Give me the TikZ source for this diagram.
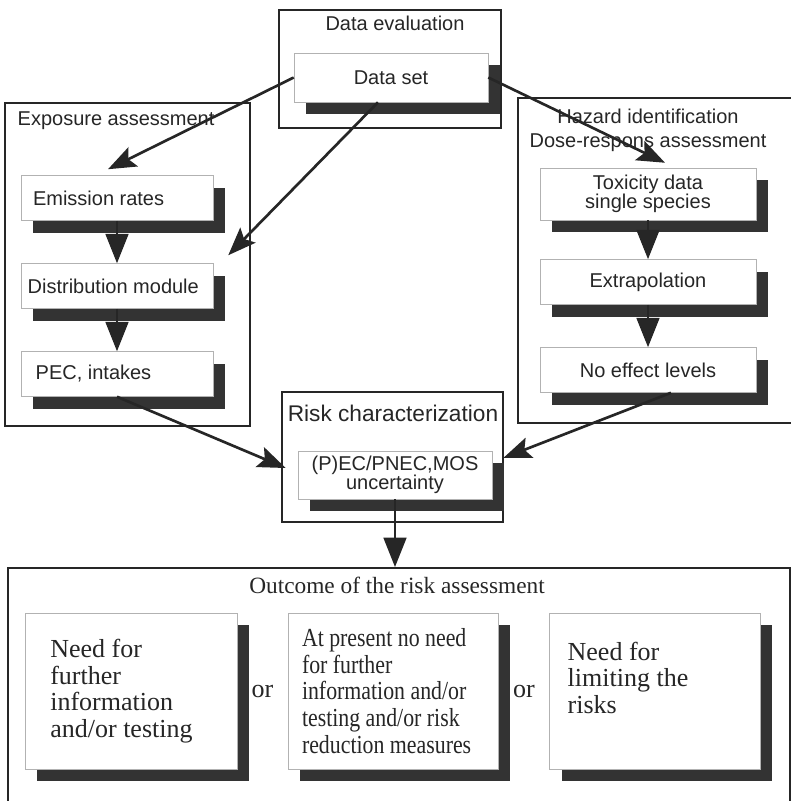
\documentclass[tikz,border=0pt]{standalone}
\usepackage{fontspec}
\setmainfont{Liberation Serif}
\setsansfont{Liberation Sans}
\newfontfamily\narrowserif[FakeStretch=0.84]{Liberation Serif}
\usetikzlibrary{positioning,shadows,calc,arrows.meta}

\tikzset{
  frame/.style={draw=black!85,line width=1pt},
  title/.style={font=\sffamily\fontsize{15}{18}\selectfont,text=black!85},
  shadowbox/.style={draw=black!30,line width=0.4pt,fill=white,text=black!85,
    drop shadow={shadow xshift=9pt,shadow yshift=-9pt,fill=black!80,opacity=1}},
  module/.style={shadowbox,font=\sffamily\fontsize{15}{14.5}\selectfont,minimum height=33.75pt},
  expmodule/.style={module,text width=134pt,inner xsep=5pt,align=flush left},
  hazmodule/.style={module,minimum width=162pt,align=center},
  outcome/.style={shadowbox,font=\fontsize{19.5}{20}\selectfont,minimum height=117pt,align=flush left},
  ortext/.style={font=\fontsize{19.5}{20}\selectfont,text=black!85},
  flow/.style={draw=black!85,line width=2pt,-{Stealth[length=21pt,width=16pt,inset=4pt]}},
  step flow/.style={draw=black!85,line width=2pt,-{Triangle[length=22pt,width=17pt]}}
}

\begin{document}
\begin{tikzpicture}[x=0.75pt,y=-0.75pt,on grid]
\useasboundingbox (0,0) rectangle (791,801);
% frames
\draw[frame] (279,10) rectangle (501,128);
\draw[frame] (5,103) rectangle (250,426);
\draw[frame] (518,98) rectangle (800,423);
\draw[frame] (282,392) rectangle (503,522);
\draw[frame] (8,568) rectangle (790,812);
% titles
\node[title] (evaltitle) at (395,23) {Data evaluation};
\node[title,anchor=west] (exptitle) at (13,121) {Exposure assessment};
\node[title,align=center] (haztitle) at (648,130) {Hazard identification\\Dose-respons assessment};
\node[title,font=\sffamily\fontsize{17}{18}\selectfont] (risktitle) at (393,413) {Risk characterization};
\node[font=\fontsize{17.5}{18}\selectfont,text=black!85] (outtitle) at (397,585) {Outcome of the risk assessment};
% modules
\node[module,minimum width=145.5pt,minimum height=36.75pt] (dataset) at (391,77.5) {Data set};
\node[expmodule] (emission) at (117,198) {\hspace*{4pt}Emission rates};
\node[expmodule] (distrib) [below=66pt of emission] {Distribution module};
\node[expmodule] (pec) [below=66pt of distrib] {\hspace*{6pt}PEC, intakes};
\node[hazmodule,minimum height=39pt] (tox) at (648,194) {Toxicity data\\single species};
\node[hazmodule] (extrap) [below=66pt of tox] {Extrapolation};
\node[hazmodule] (noeff) [below=66pt of extrap] {No effect levels};
\node[module,minimum width=145.5pt,minimum height=36pt,align=center] (pnec) at (395,475) {(P)EC/PNEC,MOS\\uncertainty};
% outcomes
\node[outcome,text width=136.5pt,inner xsep=10.5pt,font=\narrowserif\fontsize{19.5}{20}\selectfont] (nofurther) at (393,691)
  {At present no need\\for further\\information and/or\\testing and/or risk\\reduction measures};
\node[outcome,text width=121pt,inner xsep=19pt] (further) [left=196.5pt of nofurther]
  {Need for\\further\\information\\and/or testing};
\node[outcome,text width=131pt,inner xsep=13.5pt] (limit) [right=196.5pt of nofurther]
  {Need for\\limiting the\\risks\\~};
\node[ortext] (or1) at ($(further.east)!0.5!(nofurther.west)$) {or};
\node[ortext] (or2) at ($(nofurther.east)!0.5!(limit.west)$) {or};
% arrows
\draw[step flow] (emission.south) -- (distrib.north);
\draw[step flow] (distrib.south) -- (pec.north);
\draw[step flow] (tox.south) -- (extrap.north);
\draw[step flow] (extrap.south) -- (noeff.north);
\draw[flow] (dataset.west) -- ($(emission.north)+(-9,-6)$);
\draw[flow] ($(dataset.south)+(-13,0)$) -- ($(distrib.north east)+(15,-8)$);
\draw[flow] (dataset.east) -- ($(tox.north)+(17,-5)$);
\draw[flow] (pec.south) -- ($(pnec.west)+(-12,-7)$);
\draw[flow] ($(noeff.south)+(23,0)$) -- ($(pnec.east)+(11,-17)$);
\coordinate (outtop) at (395,567);
\draw[step flow] (pnec.south) -- (outtop);
\end{tikzpicture}
\end{document}
